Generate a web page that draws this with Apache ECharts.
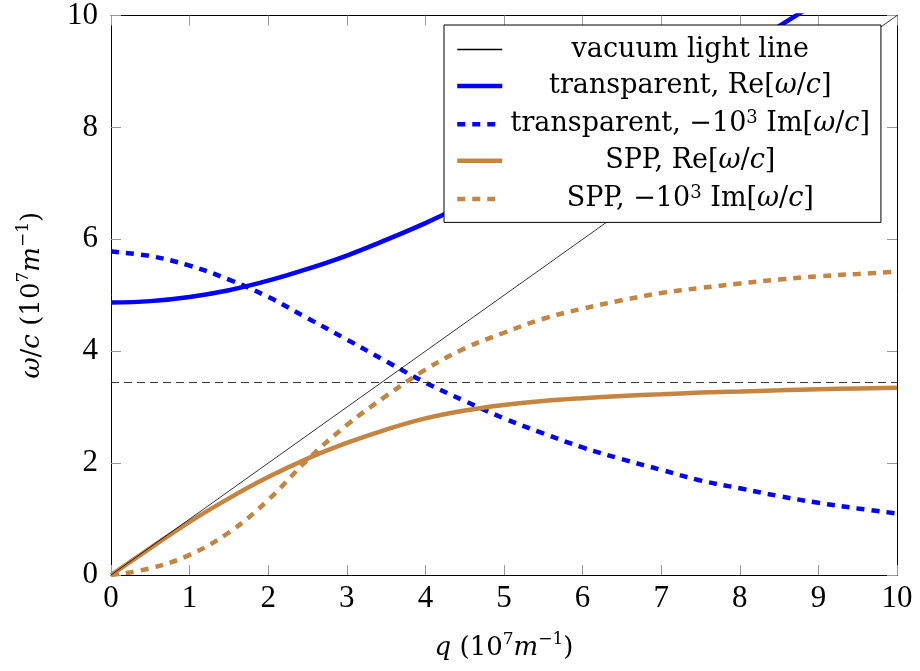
<!DOCTYPE html>
<html>
<head>
<meta charset="utf-8">
<script src="https://cdn.jsdelivr.net/npm/echarts@6/dist/echarts.min.js"></script>
<style>
html,body{margin:0;padding:0;background:#fff;}
#chart{width:920px;height:671px;}
</style>
</head>
<body>
<div id="chart"></div>
<script>
// ---- data ----
const qValues   = [0, 0.5, 1, 1.5, 2, 2.5, 3, 3.5, 4, 4.5, 5, 5.5, 6, 6.5, 7, 7.5, 8, 8.5, 9, 9.5, 10];
const transRe   = [4.87, 4.895, 4.97, 5.09, 5.26, 5.47, 5.71, 5.99, 6.29, 6.62, 6.96, 7.33, 7.71, 8.10, 8.52, 8.94, 9.37, 9.81, 10.25, 10.7, 11.15];
const transIm   = [5.78, 5.70, 5.53, 5.28, 4.97, 4.59, 4.21, 3.82, 3.44, 3.11, 2.80, 2.53, 2.28, 2.07, 1.88, 1.69, 1.55, 1.41, 1.29, 1.19, 1.10];
const sppRe     = [0, 0.48, 0.95, 1.37, 1.75, 2.08, 2.36, 2.60, 2.80, 2.94, 3.04, 3.11, 3.16, 3.20, 3.23, 3.26, 3.28, 3.30, 3.32, 3.335, 3.345];
const sppIm     = [0, 0.12, 0.36, 0.76, 1.34, 2.06, 2.68, 3.20, 3.67, 4.05, 4.33, 4.58, 4.76, 4.91, 5.04, 5.13, 5.21, 5.28, 5.34, 5.38, 5.42];
const lightQ    = [0, 10];
const lightW    = [0, 10];
const asymptoteQ = [0, 10];
const asymptoteW = [3.44, 3.44];
const xTickValues = [0,1,2,3,4,5,6,7,8,9,10];
const yTickValues = [0,2,4,6,8,10];
const seriesNames = ['vacuum light line', 'transparent, Re[ω/c]', 'transparent, −10³ Im[ω/c]', 'SPP, Re[ω/c]', 'SPP, −10³ Im[ω/c]'];
const legendRich = {
  'vacuum light line': '{t|vacuum light line}',
  'transparent, Re[ω/c]': '{t|transparent, Re[}{i|ω}{t|/}{i|c}{t|]}',
  'transparent, −10³ Im[ω/c]': '{t|transparent, −10}{s|3}{t| Im[}{i|ω}{t|/}{i|c}{t|]}',
  'SPP, Re[ω/c]': '{t|SPP, Re[}{i|ω}{t|/}{i|c}{t|]}',
  'SPP, −10³ Im[ω/c]': '{t|SPP, −10}{s|3}{t| Im[}{i|ω}{t|/}{i|c}{t|]}'
};

const zip = (a, b) => a.map((v, i) => [v, b[i]]);
const BLUE = '#0000ff';
const BROWN = '#c58542';
const SERIF = 'DejaVu Serif';
const NUMF = 'Liberation Serif';

const chart = echarts.init(document.getElementById('chart'), null, {renderer: 'canvas'});

const tickStyle = {show: true, inside: true, length: 10, lineStyle: {color: '#999', width: 1}};
const axisLine = {show: true, onZero: false, lineStyle: {color: '#000', width: 1}};

const nameRich = {
  t: {fontFamily: SERIF, fontSize: 26, color: '#000', lineHeight: 34},
  i: {fontFamily: SERIF, fontSize: 26, fontStyle: 'italic', color: '#000', lineHeight: 34},
  s: {fontFamily: SERIF, fontSize: 17, color: '#000', verticalAlign: 'top', lineHeight: 22}
};

const legendWidths = [1.5, 4.5, 4.5, 4.5, 4.5];

const option = {
  animation: false,
  backgroundColor: '#fff',
  grid: {left: 111, right: 23, top: 15, bottom: 96, containLabel: false},
  legend: {
    data: seriesNames.map((n, k) => ({name: n, lineStyle: {width: legendWidths[k]}})),
    orient: 'vertical',
    left: 444,
    top: 25,
    padding: [11, 11, 10, 11],
    itemWidth: 45,
    itemHeight: 14,
    itemGap: 9.6,
    itemTextGap: 5,
    backgroundColor: '#fff',
    borderColor: '#000',
    borderWidth: 1,
    borderRadius: 0,
    selectedMode: false,
    itemStyle: {opacity: 0},
    formatter: name => legendRich[name],
    textStyle: {
      width: 366,
      rich: {
        t: {fontFamily: SERIF, fontSize: 27, color: '#000', lineHeight: 30, align: 'center'},
        i: {fontFamily: SERIF, fontSize: 27, fontStyle: 'italic', color: '#000', lineHeight: 30, align: 'center'},
        s: {fontFamily: SERIF, fontSize: 18, color: '#000', lineHeight: 16, verticalAlign: 'top', align: 'center'}
      }
    }
  },
  xAxis: [
    {
      type: 'value', min: 0, max: 10, interval: 1, position: 'bottom',
      axisLine: axisLine, axisTick: tickStyle, splitLine: {show: false},
      axisLabel: {fontFamily: NUMF, fontSize: 31, color: '#000', margin: 8},
      name: '{i|q}{t| (10}{s|7}{i|m}{s|−1}{t|)}',
      nameLocation: 'middle', nameGap: 56,
      nameTextStyle: {rich: nameRich}
    },
    {
      type: 'value', min: 0, max: 10, interval: 1, position: 'top',
      axisLine: axisLine, axisTick: tickStyle, splitLine: {show: false},
      axisLabel: {show: false}
    }
  ],
  yAxis: [
    {
      type: 'value', min: 0, max: 10, interval: 2, position: 'left',
      axisLine: axisLine, axisTick: tickStyle, splitLine: {show: false},
      axisLabel: {fontFamily: NUMF, fontSize: 31, color: '#000', margin: 13},
      name: '{i|ω}{t|/}{i|c}{t| (10}{s|7}{i|m}{s|−1}{t|)}',
      nameLocation: 'middle', nameGap: 62, nameRotate: 90,
      nameTextStyle: {rich: nameRich}
    },
    {
      type: 'value', min: 0, max: 10, interval: 2, position: 'right',
      axisLine: axisLine, axisTick: tickStyle, splitLine: {show: false},
      axisLabel: {show: false}
    }
  ],
  series: [
    {
      name: seriesNames[0], type: 'line', data: zip(lightQ, lightW),
      showSymbol: false, symbol: 'none', clip: true,
      lineStyle: {color: '#000', width: 0.8}, itemStyle: {color: '#000'}, z: 3
    },
    {
      name: seriesNames[1], type: 'line', data: zip(qValues, transRe), smooth: 0.4,
      showSymbol: false, symbol: 'none', clip: true,
      lineStyle: {color: BLUE, width: 4.5}, itemStyle: {color: BLUE}, z: 2
    },
    {
      name: seriesNames[2], type: 'line', data: zip(qValues, transIm), smooth: 0.4,
      showSymbol: false, symbol: 'none', clip: true,
      lineStyle: {color: BLUE, width: 4.5, type: [8, 7]}, itemStyle: {color: BLUE}, z: 2
    },
    {
      name: seriesNames[3], type: 'line', data: zip(qValues, sppRe), smooth: 0.4,
      showSymbol: false, symbol: 'none', clip: true,
      lineStyle: {color: BROWN, width: 4.5}, itemStyle: {color: BROWN}, z: 2
    },
    {
      name: seriesNames[4], type: 'line', data: zip(qValues, sppIm), smooth: 0.4,
      showSymbol: false, symbol: 'none', clip: true,
      lineStyle: {color: BROWN, width: 4.5, type: [8, 7]}, itemStyle: {color: BROWN}, z: 2
    },
    {
      name: 'asymptote', type: 'line', data: zip(asymptoteQ, asymptoteW),
      showSymbol: false, symbol: 'none', silent: true,
      lineStyle: {color: '#333', width: 1, type: [8, 5]}, z: 3
    }
  ]
};
chart.setOption(option);
</script>
</body>
</html>
